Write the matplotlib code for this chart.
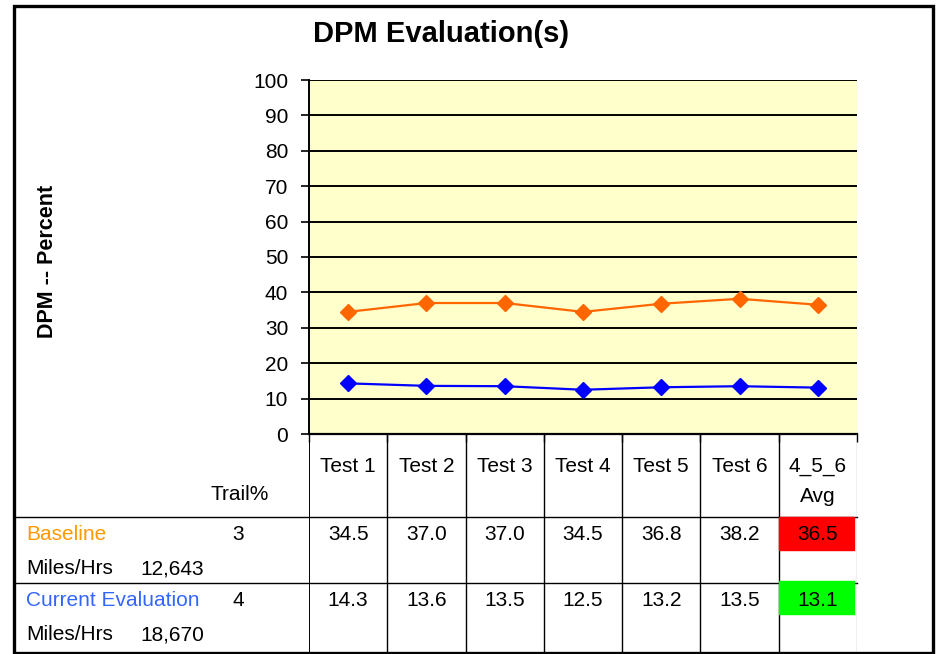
import matplotlib
matplotlib.use("Agg")
import matplotlib.pyplot as plt
from matplotlib.patches import Rectangle

# Datos
categories = ["Test 1", "Test 2", "Test 3", "Test 4", "Test 5", "Test 6", "4_5_6\nAvg"]
baseline = [34.5, 37.0, 37.0, 34.5, 36.8, 38.2, 36.5]
current = [14.3, 13.6, 13.5, 12.5, 13.2, 13.5, 13.1]
series_names = ["Baseline", "Current Evaluation"]
trail_pct = ["3", "4"]
miles_hrs = ["12,643", "18,670"]
yticks = list(range(0, 101, 10))

plt.rcParams['font.family'] = ['Liberation Sans', 'DejaVu Sans']
W, H = 949, 654
fig = plt.figure(figsize=(W / 100, H / 100), dpi=100)

def box(x0, y0, x1, y1):
    # caja en pixeles (origen arriba-izquierda) -> fraccion de figura
    return [x0 / W, 1 - y1 / H, (x1 - x0) / W, (y1 - y0) / H]

# Fondo para textos en pixeles
bg = fig.add_axes([0, 0, 1, 1])
bg.set_xlim(0, W)
bg.set_ylim(H, 0)
bg.axis('off')
bg.add_patch(Rectangle((14.5, 5.5), 919, 647, fill=False, ec='black', lw=2.4))

# Grafica principal
ax = fig.add_axes(box(309, 80, 857, 434))
ax.set_facecolor('#FFFFCC')
x = range(len(categories))
ax.plot(x, baseline, color='#FF6600', lw=1.6, marker='D', ms=8.5, zorder=3)
ax.plot(x, current, color='#0000FF', lw=1.6, marker='D', ms=8.5, zorder=3)
ax.set_xlim(-0.5, len(categories) - 0.5)
ax.set_ylim(0, 100)
ax.set_yticks(yticks)
ax.yaxis.grid(True, color='black', lw=1.4)
ax.set_axisbelow(True)
ax.tick_params(axis='y', direction='out', length=6, width=1.2, labelsize=15, pad=9)
ax.set_xticks([i - 0.5 for i in range(len(categories) + 1)])
ax.tick_params(axis='x', direction='out', length=6, width=1.0, labelbottom=False)
for s in ['top', 'right']:
    ax.spines[s].set_visible(False)
ax.spines['left'].set_linewidth(1.4)
ax.spines['bottom'].set_linewidth(1.6)

fig.text(441 / W, 1 - 34 / H, "DPM Evaluation(s)", fontsize=21, fontweight='bold',
         ha='center', va='center')
bg.text(48, 261, "DPM -- Percent", rotation=90, fontsize=15.5, fontweight='bold',
        ha='center', va='center')

# Tabla (comparte el eje x)
tax = fig.add_axes(box(309, 434, 857, 652), sharex=ax)
tax.set_ylim(652, 434)
tax.axis('off')
n = len(categories)
for i in range(n + 1):
    tax.axvline(i - 0.5, color='black' if i < n else '#B0B0B0', lw=1.0 if i > 0 else 1.4)
for i, c in enumerate(categories):
    for k, line in enumerate(c.split('\n')):
        tax.text(i, 467 + 30 * k, line, ha='center', va='center', fontsize=15)
row_y = [535, 601]
cell_top = [517, 581]
avg_colors = ['#FF0000', '#00FF00']
for r, vals in enumerate([baseline, current]):
    for i, v in enumerate(vals):
        tax.text(i, row_y[r], f"{v:.1f}", ha='center', va='center', fontsize=15, zorder=3)
    tax.add_patch(Rectangle((n - 1.5, cell_top[r]), 1 - 0.04, 33, color=avg_colors[r], zorder=2))

# Lineas horizontales de la tabla
for y in [517, 583]:
    bg.plot([14.5, 857], [y, y], color='black', lw=1.0)

# Etiquetas de la izquierda
bg.text(240, 495, "Trail%", ha='center', va='center', fontsize=15)
name_colors = ['#FF9900', '#3366FF']
for r in range(2):
    bg.text(26, row_y[r], series_names[r], ha='left', va='center', fontsize=15, color=name_colors[r])
    bg.text(238, row_y[r], trail_pct[r], ha='center', va='center', fontsize=15)
    bg.text(26, row_y[r] + 34, "Miles/Hrs", ha='left', va='center', fontsize=15)
    bg.text(204, row_y[r] + 34, miles_hrs[r], ha='right', va='center', fontsize=15)

fig.savefig("out.png", dpi=100)
